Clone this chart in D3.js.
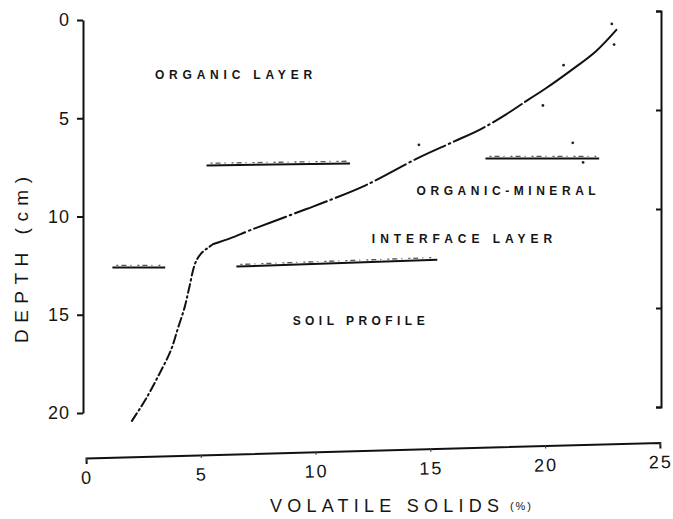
<!DOCTYPE html>
<html>
<head>
<meta charset="utf-8">
<script src="https://cdn.jsdelivr.net/npm/d3@7/dist/d3.min.js"></script>
<style>
  html, body { margin: 0; padding: 0; background: #fff; }
  svg { display: block; }
  text { font-family: "Liberation Sans", Arial, sans-serif; fill: #151515; }
</style>
</head>
<body>
<svg id="chart" width="673" height="519"></svg>
<script>
// Depth profile of volatile solids through the soil column
const volatileSolids = [2.0, 2.6, 3.2, 3.7, 4.0, 4.3, 4.5, 4.75, 5.0, 5.3, 5.55, 6.3, 7.1, 8.1, 9.6, 10.5, 12.2, 14.5, 16.0, 17.2, 18.3, 19.2, 20.0, 21.2, 22.2, 23.1];
const depthCm        = [20.4, 19.3, 18.0, 16.8, 15.7, 14.6, 13.6, 12.4, 11.9, 11.6, 11.4, 11.1, 10.72, 10.28, 9.62, 9.22, 8.4, 7.0, 6.2, 5.55, 4.8, 4.1, 3.5, 2.5, 1.6, 0.5];

// individual measurements around the upper curve
const sampleSolids = [22.9, 23.0, 20.8, 19.9, 21.2, 21.65, 14.5];
const sampleDepth  = [0.2, 1.25, 2.3, 4.35, 6.25, 7.25, 6.35];

// layer boundaries (horizontal bars)
const boundaryFrom       = [1.15, 5.25, 6.55, 17.4];
const boundaryTo         = [3.45, 11.5, 15.3, 22.35];
const boundaryDepthFrom  = [12.6, 7.4, 12.55, 7.05];
const boundaryDepthTo    = [12.6, 7.3, 12.2, 7.05];

// zone names
const zoneNames = ["ORGANIC LAYER", "ORGANIC-MINERAL", "INTERFACE LAYER", "SOIL PROFILE"];
const zoneFrom  = [3.0, 14.4, 12.45, 9.0];
const zoneTo    = [9.85, 22.2, 20.3, 14.75];
const zoneDepth = [2.75, 8.65, 11.1, 15.25];

const depthTicks  = [0, 5, 10, 15, 20];
const solidsTicks = [0, 5, 10, 15, 20, 25];

const svg = d3.select("#chart");

const x = d3.scaleLinear().domain([0, 25]).range([86, 660]);
const y = d3.scaleLinear().domain([0, 20]).range([20, 413]);
// right-hand frame scale
const yR = d3.scaleLinear().domain([0, 20]).range([11, 407]);

// left depth axis
const yAxis = svg.append("g")
  .attr("transform", "translate(83,0)")
  .call(d3.axisLeft(y).tickValues(depthTicks).tickSizeInner(6).tickSizeOuter(0).tickPadding(7));
yAxis.select(".domain").attr("stroke", "#111").attr("stroke-width", 2);
yAxis.selectAll(".tick line").attr("stroke", "#111").attr("stroke-width", 2);
yAxis.selectAll(".tick text")
  .attr("font-size", 18).attr("fill", "#151515")
  .style("font-family", "'Liberation Sans', Arial, sans-serif")
  .attr("letter-spacing", 1);

// right frame
const rAxis = svg.append("g")
  .attr("transform", "translate(661,0)")
  .call(d3.axisLeft(yR).tickValues(depthTicks).tickSizeInner(5).tickSizeOuter(5).tickFormat(""));
rAxis.select(".domain").attr("stroke", "#111").attr("stroke-width", 2);
rAxis.selectAll(".tick line").attr("stroke", "#111").attr("stroke-width", 2);

// bottom axis, drawn slightly askew
const xAxis = svg.append("g")
  .attr("transform", "translate(0,458) rotate(-1.55 86 0)")
  .call(d3.axisBottom(x).tickValues(solidsTicks).tickSizeInner(3).tickSizeOuter(6).tickPadding(10));
xAxis.select(".domain").attr("stroke", "#111").attr("stroke-width", 2);
xAxis.selectAll(".tick line").attr("stroke", "#444").attr("stroke-width", 1.2);
xAxis.selectAll(".tick text")
  .attr("font-size", 18).attr("fill", "#151515")
  .style("font-family", "'Liberation Sans', Arial, sans-serif")
  .attr("letter-spacing", 2);

// axis titles
svg.append("text")
  .attr("transform", "translate(28,260) rotate(-90)")
  .attr("text-anchor", "middle")
  .attr("font-size", 19)
  .attr("textLength", 166)
  .attr("lengthAdjust", "spacing")
  .text("DEPTH (cm)");

svg.append("text")
  .attr("x", 270).attr("y", 512)
  .attr("font-size", 18)
  .attr("textLength", 229)
  .attr("lengthAdjust", "spacing")
  .text("VOLATILE SOLIDS");
svg.append("text")
  .attr("x", 510).attr("y", 510)
  .attr("font-size", 11)
  .attr("textLength", 21)
  .attr("lengthAdjust", "spacing")
  .text("(%)");

// layer boundary bars with a stippled edge
const bars = svg.append("g");
boundaryFrom.forEach((b, i) => {
  bars.append("line")
    .attr("x1", x(b)).attr("x2", x(boundaryTo[i]))
    .attr("y1", y(boundaryDepthFrom[i])).attr("y2", y(boundaryDepthTo[i]))
    .attr("stroke", "#111").attr("stroke-width", 2);
  bars.append("line")
    .attr("x1", x(b) + 4).attr("x2", x(boundaryTo[i]) - 3)
    .attr("y1", y(boundaryDepthFrom[i]) - 2.2).attr("y2", y(boundaryDepthTo[i]) - 2.2)
    .attr("stroke", "#555").attr("stroke-width", 1.3)
    .attr("stroke-dasharray", "2,3,5,4,1,6");
});

// profile curve, split into its three drawn styles
const pts = volatileSolids.map((v, i) => [v, depthCm[i]]);
const line = d3.line()
  .x(d => x(d[0])).y(d => y(d[1]))
  .curve(d3.curveCatmullRom.alpha(0.5));

const segments = [
  { data: pts.slice(0, 11), dash: "9,3.5,1.6,3.5" },
  { data: pts.slice(10, 22), dash: "34,4,1.6,4" },
  { data: pts.slice(21), dash: null }
];
svg.append("g").selectAll("path")
  .data(segments)
  .join("path")
  .attr("d", s => line(s.data))
  .attr("fill", "none")
  .attr("stroke", "#111")
  .attr("stroke-width", 2)
  .attr("stroke-linecap", "round")
  .attr("stroke-dasharray", s => s.dash);

// sample points
svg.append("g").selectAll("circle")
  .data(sampleSolids.map((v, i) => [v, sampleDepth[i]]))
  .join("circle")
  .attr("cx", d => x(d[0])).attr("cy", d => y(d[1]))
  .attr("r", 1.4)
  .attr("fill", "#222");

// zone labels
svg.append("g").selectAll("text")
  .data(zoneNames.map((n, i) => ({ n, a: zoneFrom[i], b: zoneTo[i], d: zoneDepth[i] })))
  .join("text")
  .attr("x", d => x(d.a))
  .attr("y", d => y(d.d) + 5)
  .attr("font-size", 12)
  .attr("font-weight", "bold")
  .attr("textLength", d => x(d.b) - x(d.a))
  .attr("lengthAdjust", "spacing")
  .text(d => d.n);
</script>
</body>
</html>
